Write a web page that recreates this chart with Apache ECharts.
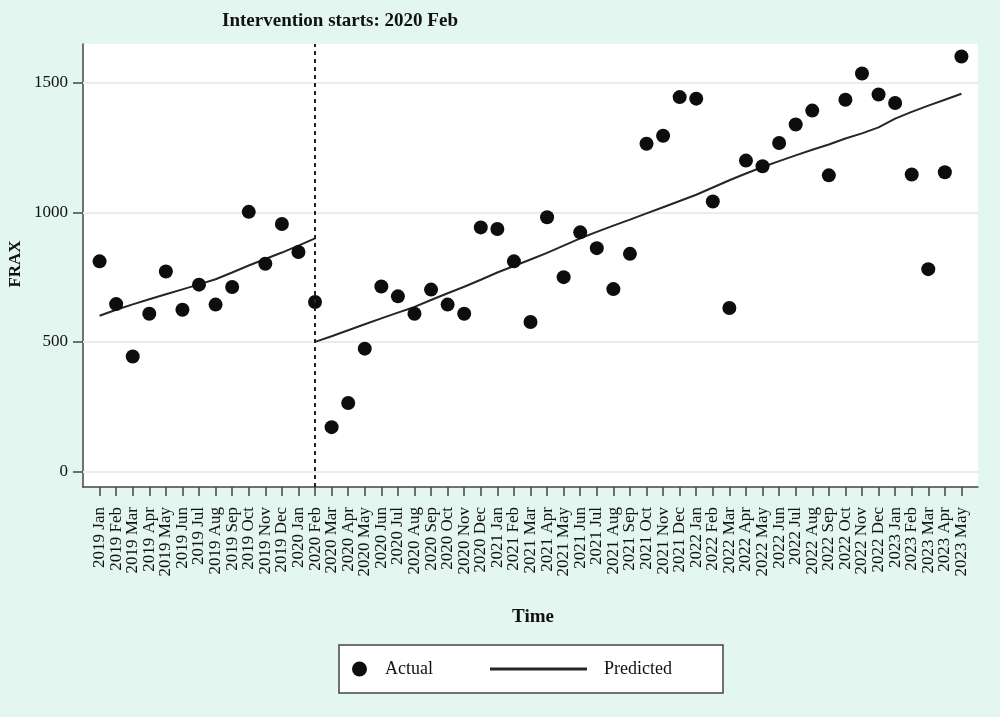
<!DOCTYPE html>
<html>
<head>
<meta charset="utf-8">
<script src="https://cdn.jsdelivr.net/npm/echarts@6/dist/echarts.min.js"></script>
<style>
  html, body { margin: 0; padding: 0; background: #e4f6f0; }
  #chart { width: 1000px; height: 717px; }
</style>
</head>
<body>
<div id="chart"></div>
<script>
  // months on the x axis
  var categories = [
    '2019 Jan', '2019 Feb', '2019 Mar', '2019 Apr', '2019 May', '2019 Jun', '2019 Jul', '2019 Aug', '2019 Sep', '2019 Oct', '2019 Nov', '2019 Dec',
    '2020 Jan', '2020 Feb', '2020 Mar', '2020 Apr', '2020 May', '2020 Jun', '2020 Jul', '2020 Aug', '2020 Sep', '2020 Oct', '2020 Nov', '2020 Dec',
    '2021 Jan', '2021 Feb', '2021 Mar', '2021 Apr', '2021 May', '2021 Jun', '2021 Jul', '2021 Aug', '2021 Sep', '2021 Oct', '2021 Nov', '2021 Dec',
    '2022 Jan', '2022 Feb', '2022 Mar', '2022 Apr', '2022 May', '2022 Jun', '2022 Jul', '2022 Aug', '2022 Sep', '2022 Oct', '2022 Nov', '2022 Dec',
    '2023 Jan', '2023 Feb', '2023 Mar', '2023 Apr', '2023 May'
  ];

  // observed FRAX values
  var actual = [
    811, 646, 444, 609, 772, 624, 721, 644, 712, 1002, 802, 955,
    847, 654, 171, 264, 474, 714, 676, 609, 702, 644, 609, 942,
    936, 811, 577, 981, 750, 923, 862, 704, 840, 1265, 1296, 1445,
    1439, 1042, 631, 1200, 1178, 1268, 1339, 1393, 1143, 1435, 1536, 1455,
    1422, 1146, 781, 1155, 1602
  ];

  // fitted line before the intervention (2019 Jan .. 2020 Feb)
  var predictedPre = [601, 624, 645, 665, 684, 703, 722, 742, 768, 795, 820, 845, 872, 900];

  // fitted line from the intervention on (2020 Feb .. 2023 May)
  var predictedPost = [
    500, 522, 545, 568, 591, 613, 635, 662, 688, 713, 740, 768, 793, 818, 844, 872, 900, 925, 949, 972,
    996, 1020, 1044, 1068, 1096, 1124, 1150, 1175, 1198, 1220, 1242, 1262, 1285, 1305, 1328, 1362, 1388, 1412, 1435, 1458
  ];

  var yTicks = [0, 500, 1000, 1500];
  var interventionMonth = '2020 Feb';

  var serif = '"Liberation Serif", "DejaVu Serif", serif';
  var idx = categories.indexOf(interventionMonth);
  var xIdx = categories.map(function (c, i) { return i; });
  // padded with empty end labels so the axis's min/max label hiding only drops those
  var xLabelIdx = [-1].concat(xIdx, [categories.length]);

  var myChart = echarts.init(document.getElementById('chart'));

  var option = {
    animation: false,
    backgroundColor: '#e4f6f0',
    grid: {
      left: 83, top: 44, width: 895, bottom: 230,
      show: true, backgroundColor: '#ffffff', borderWidth: 0
    },
    xAxis: {
      type: 'value', min: -1, max: 53,
      axisLine: { show: true, onZero: false, lineStyle: { color: '#444', width: 1.5 } },
      axisTick: { show: true, length: 9, customValues: xIdx, lineStyle: { color: '#444', width: 1.5 } },
      axisLabel: {
        customValues: xLabelIdx, rotate: 90, margin: 20,
        showMinLabel: false, showMaxLabel: false, hideOverlap: false,
        fontFamily: serif, fontSize: 17, color: '#111',
        formatter: function (v) { return categories[v] || ''; }
      },
      splitLine: { show: false }
    },
    yAxis: {
      type: 'value', min: -60, max: 1650,
      axisLine: { show: true, onZero: false, lineStyle: { color: '#444', width: 1.5 } },
      axisTick: { show: true, length: 10, customValues: yTicks, lineStyle: { color: '#444', width: 1.5 } },
      axisLabel: {
        customValues: yTicks, margin: 15, fontFamily: serif, fontSize: 17, color: '#111',
        formatter: function (v) { return String(v); }
      },
      splitLine: { show: false }
    },
    legend: [
      {
        data: ['Actual'], left: 347, top: 655, icon: 'circle',
        itemWidth: 15, itemHeight: 15, selectedMode: false,
        itemStyle: { color: '#0d0d0d', opacity: 1 },
        textStyle: { fontFamily: serif, fontSize: 18, color: '#111', padding: [0, 0, 0, 13] }
      },
      {
        data: [{ name: 'Predicted', icon: 'rect' }], left: 485, top: 655,
        itemWidth: 97, itemHeight: 3, selectedMode: false,
        itemStyle: { color: '#262626' },
        textStyle: { fontFamily: serif, fontSize: 18, color: '#111', padding: [0, 0, 0, 12] }
      }
    ],
    graphic: [
      {
        type: 'rect', z: 0,
        shape: { x: 339, y: 645, width: 384, height: 48 },
        style: { fill: '#ffffff', stroke: '#444', lineWidth: 1.5 }
      },
      {
        type: 'text', x: 340, y: 21,
        style: { text: 'Intervention starts: ' + interventionMonth, textAlign: 'center', textVerticalAlign: 'middle',
          font: 'bold 19px ' + serif, fill: '#111' }
      },
      {
        type: 'text', x: 533, y: 617,
        style: { text: 'Time', textAlign: 'center', textVerticalAlign: 'middle', font: 'bold 19px ' + serif, fill: '#111' }
      },
      {
        type: 'text', x: 16, y: 264, rotation: Math.PI / 2,
        style: { text: 'FRAX', textAlign: 'center', textVerticalAlign: 'middle', font: 'bold 17px ' + serif, fill: '#111' }
      }
    ],
    series: [
      {
        name: 'Predicted', type: 'line', z: 2,
        symbol: 'none', showSymbol: false,
        lineStyle: { color: '#262626', width: 2 },
        itemStyle: { color: '#262626' },
        data: predictedPre.map(function (v, i) { return [i, v]; }),
        markLine: {
          silent: true, symbol: 'none', z: 1,
          label: { show: false },
          lineStyle: { color: '#ececec', width: 2, type: 'solid' },
          data: yTicks.map(function (v) { return { yAxis: v }; })
        }
      },
      {
        name: 'Predicted', type: 'line', z: 2,
        symbol: 'none', showSymbol: false,
        lineStyle: { color: '#262626', width: 2 },
        itemStyle: { color: '#262626' },
        data: predictedPost.map(function (v, i) { return [idx + i, v]; }),
        markLine: {
          silent: true, symbol: 'none',
          label: { show: false },
          lineStyle: { color: '#222', width: 2, type: [4, 4] },
          data: [{ xAxis: idx }]
        }
      },
      {
        name: 'Actual', type: 'scatter', z: 3,
        symbol: 'circle', symbolSize: 14,
        itemStyle: { color: '#0d0d0d', opacity: 1 },
        data: actual.map(function (v, i) { return [i, v]; })
      }
    ]
  };

  myChart.setOption(option);
</script>
</body>
</html>
